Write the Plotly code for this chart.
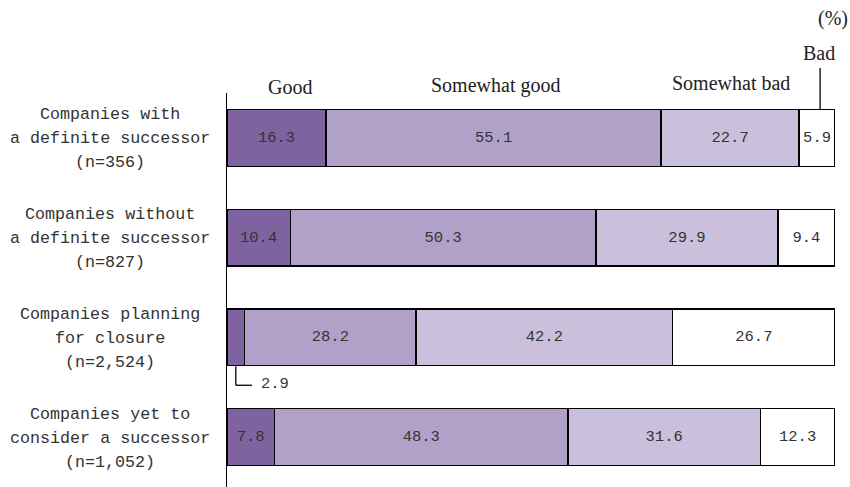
import plotly.graph_objects as go

categories = [
    "Companies with<br>a definite successor<br>(n=356)",
    "Companies without<br>a definite successor<br>(n=827)",
    "Companies planning<br>for closure<br>(n=2,524)",
    "Companies yet to<br>consider a successor<br>(n=1,052)",
]
series_names = ["Good", "Somewhat good", "Somewhat bad", "Bad"]
good = [16.3, 10.4, 2.9, 7.8]
somewhat_good = [55.1, 50.3, 28.2, 48.3]
somewhat_bad = [22.7, 29.9, 42.2, 31.6]
bad = [5.9, 9.4, 26.7, 12.3]
colors = ["#7F63A1", "#B1A1C8", "#CBC0DB", "#FFFFFF"]

values = [good, somewhat_good, somewhat_bad, bad]
ypos = list(range(len(categories)))

MONO = "Liberation Mono"
SERIF = "Liberation Serif"

fig = go.Figure()
for name, vals, col in zip(series_names, values, colors):
    texts = [("" if v < 5 else f"{v:.1f}") for v in vals]
    fig.add_trace(go.Bar(
        y=ypos, x=vals, orientation="h", name=name,
        marker=dict(color=col, line=dict(color="#000000", width=1.3)),
        text=texts, textposition="inside", insidetextanchor="middle",
        textangle=0, constraintext="none",
        textfont=dict(family=MONO, size=15.5, color="#333333"),
        width=0.57, hoverinfo="skip",
    ))

annotations = []
# category labels, centred lines
for i, cat in enumerate(categories):
    lines = cat.split("<br>")
    n = len(lines)
    for j, line in enumerate(lines):
        annotations.append(dict(
            text=line, xref="paper", yref="y", x=-0.192, y=i,
            yshift=(n - 1) / 2 * 24 - j * 24 - 1, showarrow=False,
            xanchor="center", yanchor="middle",
            font=dict(family=MONO, size=16.7, color="#333333"),
        ))

# headers above first bar
cum = 0
header_y = {"Good": 1.016, "Somewhat good": 1.019, "Somewhat bad": 1.026}
header_xshift = {"Good": 13, "Somewhat good": 2, "Somewhat bad": 1}
for name, vals in zip(series_names, values):
    center = cum + vals[0] / 2
    cum += vals[0]
    if name in header_y:
        annotations.append(dict(
            text=name, xref="x", yref="paper", x=center, y=header_y[name],
            xshift=header_xshift[name],
            showarrow=False, xanchor="center", yanchor="middle",
            font=dict(family=SERIF, size=20, color="#222222"),
        ))
bad_x = 100 - bad[0] / 2 + 0.5
annotations.append(dict(text="Bad", xref="x", yref="paper", x=bad_x, y=1.101,
                        xshift=-1,
                        showarrow=False, xanchor="center", yanchor="middle",
                        font=dict(family=SERIF, size=20, color="#222222")))
annotations.append(dict(text="(%)", xref="paper", yref="paper", x=1.0245, y=1.19,
                        showarrow=False, xanchor="right", yanchor="middle",
                        font=dict(family=SERIF, size=20, color="#222222")))
# small-value callout for bar 3
annotations.append(dict(text=f"{good[2]:.1f}", xref="x", yref="y", x=5.2, y=2.47,
                        showarrow=False, xanchor="left", yanchor="middle",
                        font=dict(family=MONO, size=15.5, color="#333333")))

shapes = [
    dict(type="line", xref="x", yref="paper", x0=bad_x, x1=bad_x,
         y0=1 - (110 - 93) / 394, y1=1.0635, line=dict(color="#000", width=1.3)),
    dict(type="line", xref="x", yref="y", x0=good[2] / 2, x1=good[2] / 2,
         y0=2.29, y1=2.48, line=dict(color="#000", width=1.3)),
    dict(type="line", xref="x", yref="y", x0=good[2] / 2, x1=4.1,
         y0=2.48, y1=2.48, line=dict(color="#000", width=1.3)),
]

fig.update_layout(
    barmode="stack",
    width=850, height=487,
    margin=dict(l=227, r=15, t=93, b=0),
    plot_bgcolor="#FFFFFF", paper_bgcolor="#FFFFFF",
    showlegend=False,
    xaxis=dict(range=[0, 100], visible=False, fixedrange=True),
    yaxis=dict(range=[3.5, -0.45], showticklabels=False, showgrid=False,
               zeroline=False, showline=True, linecolor="#000000", linewidth=1.3,
               ticks=""),
    annotations=annotations, shapes=shapes,
)

fig.write_html("out.html")
